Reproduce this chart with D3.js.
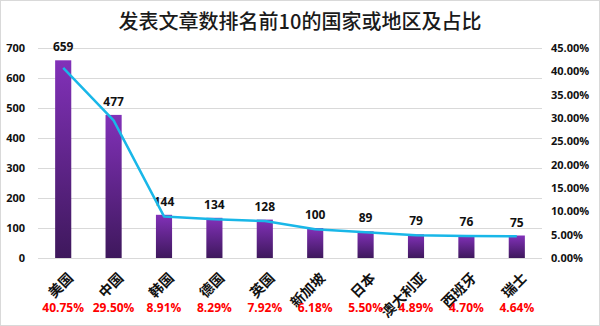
<!DOCTYPE html>
<html>
<head>
<meta charset="utf-8">
<script src="https://cdn.jsdelivr.net/npm/d3@7"></script>
<style>
  html, body { margin: 0; padding: 0; background: #fff; }
  svg { display: block; }
</style>
</head>
<body>
<script>
const categories = ["美国", "中国", "韩国", "德国", "英国", "新加坡", "日本", "澳大利亚", "西班牙", "瑞士"];
const counts = [659, 477, 144, 134, 128, 100, 89, 79, 76, 75];
const shares = [40.75, 29.50, 8.91, 8.29, 7.92, 6.18, 5.50, 4.89, 4.70, 4.64];
const leftTicks = [0, 100, 200, 300, 400, 500, 600, 700];
const rightTicks = [0, 5, 10, 15, 20, 25, 30, 35, 40, 45];
const title = "发表文章数排名前10的国家或地区及占比";

const W = 600, H = 326;
const plot = { left: 38, right: 542, top: 48, bottom: 258 };
const numFont = "'Open Sans', 'Liberation Sans', sans-serif";
const cjkFont = "'Noto Sans CJK SC', sans-serif";

const svg = d3.select("body").append("svg").attr("width", W).attr("height", H);

svg.append("rect").attr("x", 0.5).attr("y", 0.5).attr("width", W - 1).attr("height", H - 1)
  .attr("fill", "#fff").attr("stroke", "#d9d9d9");

const defs = svg.append("defs");
const grad = defs.append("linearGradient").attr("id", "barGrad")
  .attr("x1", 0).attr("y1", 0).attr("x2", 0).attr("y2", 1);
grad.append("stop").attr("offset", "0%").attr("stop-color", "#8231b9");
grad.append("stop").attr("offset", "100%").attr("stop-color", "#3e185c");

const x = d3.scaleBand().domain(categories).range([plot.left, plot.right])
  .paddingInner(0.68).paddingOuter(0.34);
const yL = d3.scaleLinear().domain([0, 700]).range([plot.bottom, plot.top]);
const yR = d3.scaleLinear().domain([0, 45]).range([plot.bottom, plot.top]);

// title
svg.append("text").attr("x", W / 2).attr("y", 29).attr("text-anchor", "middle")
  .attr("font-family", cjkFont).attr("font-weight", 500).attr("font-size", 20).attr("fill", "#1a1a1a")
  .text(title);

// gridlines
svg.append("g").selectAll("line").data(leftTicks).join("line")
  .attr("x1", plot.left).attr("x2", plot.right)
  .attr("y1", d => Math.round(yL(d)) + 0.5).attr("y2", d => Math.round(yL(d)) + 0.5)
  .attr("stroke", "#d9d9d9").attr("stroke-width", 1);

// left axis
const axL = svg.append("g").attr("transform", `translate(${plot.left},0)`)
  .call(d3.axisLeft(yL).tickValues(leftTicks).tickSize(0).tickPadding(13));
axL.select(".domain").remove();
axL.selectAll("text").attr("font-family", numFont).attr("font-weight", "bold")
  .attr("font-size", 11).attr("fill", "#111");

// right axis
const axR = svg.append("g").attr("transform", `translate(${plot.right},0)`)
  .call(d3.axisRight(yR).tickValues(rightTicks).tickSize(0).tickPadding(9)
    .tickFormat(d => d.toFixed(2) + "%"));
axR.select(".domain").remove();
axR.selectAll("text").attr("font-family", numFont).attr("font-weight", "bold")
  .attr("font-size", 11).attr("fill", "#111");

// bars
svg.append("g").selectAll("rect").data(categories).join("rect")
  .attr("x", d => x(d)).attr("width", x.bandwidth())
  .attr("y", (d, i) => yL(counts[i])).attr("height", (d, i) => yL(0) - yL(counts[i]))
  .attr("fill", "url(#barGrad)");

// value labels
svg.append("g").selectAll("text").data(categories).join("text")
  .attr("x", d => x(d) + x.bandwidth() / 2)
  .attr("y", (d, i) => yL(counts[i]) - 9)
  .attr("text-anchor", "middle")
  .attr("font-family", numFont).attr("font-weight", "bold").attr("font-size", 12)
  .attr("fill", "#111")
  .text((d, i) => counts[i]);

// line
const line = d3.line()
  .x((d, i) => x(categories[i]) + x.bandwidth() / 2)
  .y(d => yR(d));
svg.append("path").datum(shares).attr("d", line)
  .attr("fill", "none").attr("stroke", "#19b7e8").attr("stroke-width", 2.5)
  .attr("stroke-linejoin", "round");

// category labels (rotated)
svg.append("g").selectAll("text").data(categories).join("text")
  .attr("transform", d => `translate(${x(d) + x.bandwidth() / 2 + 3},${plot.bottom + 13}) rotate(-45)`)
  .attr("text-anchor", "end")
  .attr("dy", "0.8em")
  .attr("font-family", cjkFont).attr("font-weight", "bold").attr("font-size", 14)
  .attr("fill", "#111")
  .text(d => d);

// share labels
svg.append("g").selectAll("text").data(categories).join("text")
  .attr("x", d => x(d) + x.bandwidth() / 2)
  .attr("y", 312)
  .attr("text-anchor", "middle")
  .attr("font-family", numFont).attr("font-weight", "bold").attr("font-size", 12)
  .attr("fill", "#ff0000")
  .text((d, i) => shares[i].toFixed(2) + "%");
</script>
</body>
</html>
